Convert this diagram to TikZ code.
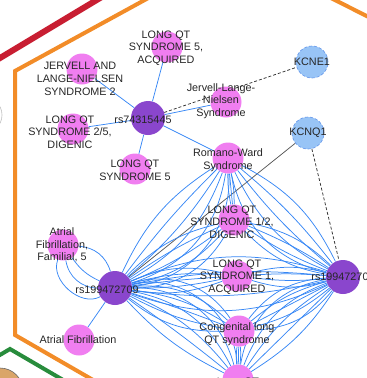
\documentclass[tikz,border=0pt]{standalone}
\usepackage{fontspec}
\setmainfont{Liberation Sans}
\definecolor{pinkn}{RGB}{240,126,240}
\definecolor{purpn}{RGB}{138,70,205}
\definecolor{bluen}{RGB}{152,196,246}
\definecolor{bluebd}{RGB}{100,150,235}
\definecolor{edgeb}{RGB}{55,135,245}
\definecolor{hexor}{RGB}{242,140,40}
\definecolor{hexred}{RGB}{200,30,50}
\definecolor{hexgr}{RGB}{40,140,60}
\definecolor{tann}{RGB}{218,165,105}
\pgfdeclarelayer{bg}
\pgfsetlayers{bg,main}
\begin{document}
\begin{tikzpicture}[x=1pt,y=-1pt,
  pk/.style={circle,fill=pinkn,minimum size=31pt,inner sep=0pt},
  pu/.style={circle,fill=purpn,minimum size=34pt,inner sep=0pt},
  bl/.style={circle,fill=bluen,draw=bluebd,densely dashed,line width=0.6pt,minimum size=32pt,inner sep=0pt},
  lab/.style={align=center,font=\fontsize{10.8}{12.7}\selectfont,text=black!85,inner sep=0pt},
  e/.style={draw=edgeb,line width=0.75pt},
  ge/.style={draw=black!80,line width=0.75pt},
  hx/.style={line width=4pt,line join=miter}]
\useasboundingbox (0,0) rectangle (367,378);
\clip (0,0) rectangle (367,378);
% background hexagons
\draw[hx,draw=hexred,line width=6pt] (-10,64) -- (110,-8);
\draw[hx,draw=hexor] (420,43) -- (236,-50) -- (15,71) -- (15,335) -- (100,384);
\draw[hx,draw=hexgr] (-12,362) -- (10,349) -- (70,384);
\draw[draw=black!60,fill=tann,line width=0.6pt] (0,391) circle (23);
\draw[draw=black!25,line width=0.6pt] (-16,115) circle (18);
% nodes
\node[pu] (P1) at (148,118) {};
\node[pu] (P2) at (115,288) {};
\node[pu] (P3) at (343,277) {};
\node[pk] (JLNS) at (226,102) {};
\node[pk] (LQT5A) at (167,47) {};
\node[pk] (JLN2) at (82,69) {};
\node[pk] (LQT25) at (73,129) {};
\node[pk] (LQT5) at (135,169) {};
\node[pk] (RW) at (228,158) {};
\node[pk] (LQT12) at (234,220) {};
\node[pk] (AFF5) at (63,245) {};
\node[pk] (LQT1A) at (237,276) {};
\node[pk] (CLQT) at (239,331) {};
\node[pk] (AF) at (79,340) {};
\node[pk] (LQTB) at (238,380) {};
\node[bl] (KCNE1) at (312,62) {};
\node[bl] (KCNQ1) at (308,133) {};
% edges
\begin{pgfonlayer}{bg}
\foreach \t in {LQT5A,JLN2,LQT25,LQT5,RW,JLNS} \draw[e] (P1) -- (\t);
\draw[ge,densely dashed] (P1) -- (KCNE1);
\draw[ge,draw=black!65] (P2) -- (KCNQ1);
\draw[ge,densely dashed] (KCNQ1) -- (P3);
\draw[e] (P2) -- (AF);
\foreach \b in {-35,15,40,70} \draw[e] (P2) to[bend left=\b] (AFF5);
\foreach \b in {-44,-32,-20,-8,4,16} \draw[e] (P2) to[bend left=\b] (RW);
\foreach \b in {-30,-18,-7,5,16} \draw[e] (P2) to[bend left=\b] (LQT12);
\foreach \b in {-14,-6,2,10,18} \draw[e] (P2) to[bend left=\b] (LQT1A);
\foreach \b in {-20,-9,2,12,24,36} \draw[e] (P2) to[bend left=\b] (CLQT);
\foreach \b in {-10,2,14,26,38,50} \draw[e] (P2) to[bend left=\b] (LQTB);
\foreach \b in {-22,-10,8,20} \draw[e] (P2) to[bend left=\b] (P3);
\foreach \b in {-18,-6,6,18,32} \draw[e] (P3) to[bend left=\b] (RW);
\foreach \b in {-16,-5,6,18} \draw[e] (P3) to[bend left=\b] (LQT12);
\foreach \b in {-14,-4,6,16} \draw[e] (P3) to[bend left=\b] (LQT1A);
\foreach \b in {-24,-12,0,12,24} \draw[e] (P3) to[bend left=\b] (CLQT);
\foreach \b in {-36,-24,-12,0,12} \draw[e] (P3) to[bend left=\b] (LQTB);
\foreach \b in {-6,0,6} \draw[e] (RW) to[bend left=\b] (LQT12);
\foreach \b in {-6,0,6} \draw[e] (CLQT) to[bend left=\b] (LQTB);
\end{pgfonlayer}
% labels
\node[lab] (tP1) at (143,120) {rs74315445};
\node[lab] (tP2) at (107,290) {rs199472709};
\node[lab] (tP3) at (343,277) {rs199472705};
\node[lab] (tJLNS) at (221,101) {Jervell-Lange-\\Nielsen\\Syndrome};
\node[lab] (tLQT5A) at (166,48) {LONG QT\\SYNDROME 5,\\ACQUIRED};
\node[lab] (tJLN2) at (80,79) {JERVELL AND\\LANGE-NIELSEN\\SYNDROME 2};
\node[lab] (tLQT25) at (70,132) {LONG QT\\SYNDROME 2/5,\\DIGENIC};
\node[lab] (tLQT5) at (135,170) {LONG QT\\SYNDROME 5};
\node[lab] (tRW) at (228,160) {Romano-Ward\\Syndrome};
\node[lab] (tLQT12) at (232,222) {LONG QT\\SYNDROME 1/2,\\DIGENIC};
\node[lab] (tAFF5) at (62,245) {Atrial\\Fibrillation,\\Familial, 5};
\node[lab] (tLQT1A) at (237,277) {LONG QT\\SYNDROME 1,\\ACQUIRED};
\node[lab] (tCLQT) at (237,334) {Congenital long\\QT syndrome};
\node[lab] (tAF) at (78,340) {Atrial Fibrillation};
\node[lab] (tLQTB) at (238,383) {Long QT};
\node[lab] (tKCNE1) at (312,62) {KCNE1};
\node[lab] (tKCNQ1) at (308,133) {KCNQ1};
\end{tikzpicture}
\end{document}
